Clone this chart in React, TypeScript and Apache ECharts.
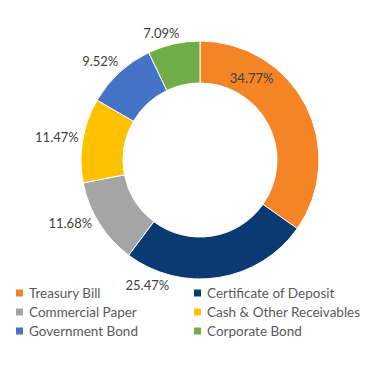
import React, { useEffect, useRef } from "react";
import * as echarts from "echarts";

const categories = [
  "Treasury Bill",
  "Certificate of Deposit",
  "Commercial Paper",
  "Cash & Other Receivables",
  "Government Bond",
  "Corporate Bond",
];
const values = [34.77, 25.47, 11.68, 11.47, 9.52, 7.09];
const colors = ["#F58426", "#0B3A72", "#A5A5A5", "#FFC000", "#4472C4", "#70AD47"];
const labelOffsets: number[][] = [[-38, -35], [-99, 2], [3, -3], [7, -2], [8, -7], [12, -5]];
const leftLegend = ["Treasury Bill", "Commercial Paper", "Government Bond"];
const rightLegend = ["Certificate of Deposit", "Cash & Other Receivables", "Corporate Bond"];

export default function App() {
  const ref = useRef<HTMLDivElement>(null);
  useEffect(() => {
    if (!ref.current) return;
    const chart = echarts.init(ref.current, null, { renderer: "svg" });
    const legendBase = {
      orient: "vertical" as const,
      icon: "rect",
      itemWidth: 9,
      itemHeight: 9,
      itemGap: 5,
      padding: 0,
      top: 278,
      textStyle: {
        fontFamily: "Lato",
        fontSize: 13.5,
        color: "#595959",
        lineHeight: 14,
      },
    };
    chart.setOption({
      animation: false,
      color: colors,
      legend: [
        { ...legendBase, left: 6, data: leftLegend },
        { ...legendBase, left: 184, data: rightLegend },
      ],
      series: [
        {
          type: "pie",
          center: [192, 152],
          radius: [77, 119],
          startAngle: 90,
          clockwise: true,
          avoidLabelOverlap: false,
          itemStyle: { borderColor: "#fff", borderWidth: 1 },
          labelLine: { show: false, length: 6, length2: 0 },
          label: {
            show: true,
            position: "outside",
            formatter: (p: any) => p.value.toFixed(2) + "%",
            fontFamily: "Lato",
            fontSize: 13,
            color: "#404040",
          },
          data: categories.map((name, i) => {
            const d: any = { name, value: values[i] };
            d.label = { offset: labelOffsets[i] };
            if (i === 0) d.label.position = "inside";
            return d;
          }),
        },
      ],
    });
    return () => chart.dispose();
  }, []);
  return <div ref={ref} style={{ width: 361, height: 370 }} />;
}
